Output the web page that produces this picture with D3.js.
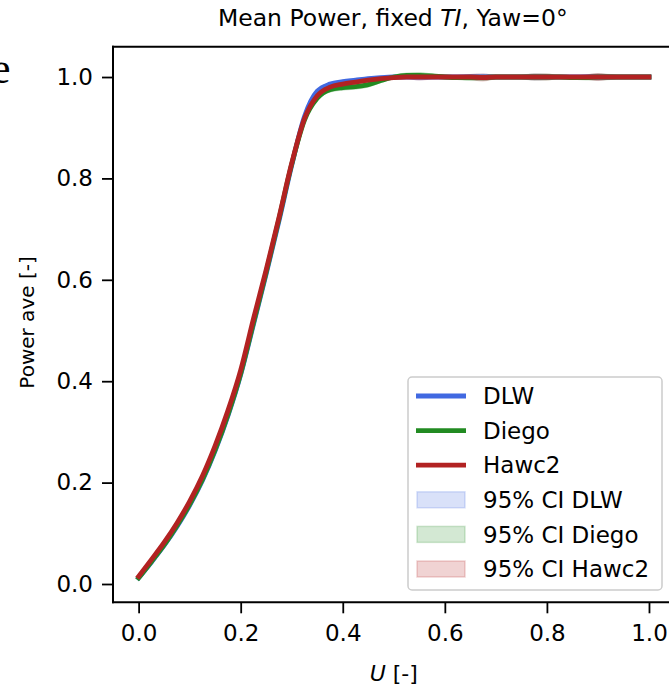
<!DOCTYPE html>
<html>
<head>
<meta charset="utf-8">
<script src="https://cdn.jsdelivr.net/npm/d3@7"></script>
<style>
  html, body { margin: 0; padding: 0; background: #fff; }
  svg { display: block; }
  text { font-family: "DejaVu Sans", sans-serif; fill: #000; }
</style>
</head>
<body>
<svg id="chart" width="669" height="688"></svg>
<script>
// ---------------- data ----------------
const u = [0,0.025,0.05,0.075,0.1,0.125,0.15,0.175,0.2,0.225,0.25,0.275,0.3,0.325,0.35,0.375,0.4,0.425,0.45,0.475,0.5,0.525,0.55,0.575,0.6,0.625,0.65,0.675,0.7,0.725,0.75,0.775,0.8,0.825,0.85,0.875,0.9,0.925,0.95,0.975,1.0];

const dlw   = [0.012,0.043,0.076,0.113,0.155,0.204,0.263,0.332,0.413,0.512,0.612,0.716,0.826,0.922,0.972,0.986,0.991,0.994,0.997,0.999,1.0,1.0,1.0,1.0,1.0,1.0,1.0,1.0,1.0,1.0,1.0,1.0,1.0,1.0,1.0,1.0,1.0,1.0,1.0,1.0,1.0];
const diego = [0.012,0.044,0.077,0.115,0.157,0.206,0.265,0.334,0.415,0.515,0.615,0.72,0.828,0.915,0.958,0.975,0.979,0.981,0.985,0.993,1.0,1.003,1.003,1.002,1.0,0.999,0.999,0.999,1.0,1.0,1.0,1.0,1.0,1.0,0.999,0.999,1.0,1.0,1.0,1.0,1.0];
const hawc2 = [0.015,0.048,0.082,0.12,0.163,0.213,0.273,0.342,0.422,0.523,0.62,0.723,0.83,0.918,0.963,0.98,0.986,0.99,0.994,0.997,0.999,1.0,1.0,1.0,1.0,1.0,1.0,0.999,1.0,1.0,1.0,1.0,1.0,1.0,1.0,1.0,1.0,1.0,1.0,1.0,1.0];

// 95% CI half-widths
const dlwCI   = [0.004,0.003,0.003,0.003,0.003,0.003,0.003,0.003,0.003,0.003,0.003,0.003,0.003,0.003,0.003,0.003,0.003,0.003,0.003,0.003,0.002,0.003,0.006,0.003,0.002,0.003,0.005,0.006,0.003,0.002,0.003,0.006,0.005,0.002,0.002,0.004,0.006,0.004,0.002,0.002,0.002];
const diegoCI = [0.004,0.003,0.003,0.003,0.003,0.003,0.003,0.003,0.003,0.003,0.003,0.003,0.003,0.004,0.004,0.005,0.005,0.005,0.005,0.004,0.004,0.005,0.006,0.004,0.003,0.004,0.006,0.006,0.004,0.003,0.004,0.006,0.006,0.003,0.003,0.005,0.006,0.005,0.003,0.002,0.002];
const hawc2CI = [0.004,0.003,0.003,0.003,0.003,0.003,0.003,0.003,0.003,0.003,0.003,0.003,0.003,0.003,0.003,0.003,0.003,0.003,0.003,0.003,0.002,0.003,0.006,0.004,0.002,0.003,0.005,0.007,0.003,0.002,0.003,0.006,0.006,0.002,0.002,0.004,0.007,0.004,0.002,0.002,0.002];

const seriesNames = ["DLW", "Diego", "Hawc2"];
const seriesColors = ["#4169e1", "#228b22", "#b22222"];
const seriesValues = [dlw, diego, hawc2];
const seriesCI = [dlwCI, diegoCI, hawc2CI];
const ciNames = ["95% CI DLW", "95% CI Diego", "95% CI Hawc2"];

const xTicks = [0.0, 0.2, 0.4, 0.6, 0.8, 1.0];
const yTicks = [0.0, 0.2, 0.4, 0.6, 0.8, 1.0];

// ---------------- layout ----------------
const svg = d3.select("#chart");
const plot = { left: 113, right: 674.6, top: 46.7, bottom: 602.3 };

const x = d3.scaleLinear().domain([-0.0502, 1.0502]).range([plot.left, plot.right]);
const y = d3.scaleLinear().domain([-0.0361, 1.0598]).range([plot.bottom, plot.top]);

// stray letter from neighbouring figure (cut at the left edge, as in the reference)
svg.append("text")
  .attr("x", -9).attr("y", 83)
  .style("font-family", "'Liberation Serif', serif")
  .style("font-size", "44px")
  .text("e");

// clip
svg.append("clipPath").attr("id", "clip")
  .append("rect")
  .attr("x", plot.left).attr("y", plot.top)
  .attr("width", plot.right - plot.left).attr("height", plot.bottom - plot.top);

const g = svg.append("g").attr("clip-path", "url(#clip)");

// CI bands
seriesValues.forEach((vals, i) => {
  const area = d3.area()
    .x((d, j) => x(u[j]))
    .y0((d, j) => y(vals[j] - seriesCI[i][j]))
    .y1((d, j) => y(vals[j] + seriesCI[i][j]))
    .curve(d3.curveMonotoneX);
  g.append("path")
    .datum(vals)
    .attr("d", area)
    .attr("fill", seriesColors[i])
    .attr("fill-opacity", 0.2)
    .attr("stroke", seriesColors[i])
    .attr("stroke-opacity", 0.2)
    .attr("stroke-width", 1);
});

// lines
seriesValues.forEach((vals, i) => {
  const line = d3.line()
    .x((d, j) => x(u[j]))
    .y(d => y(d))
    .curve(d3.curveMonotoneX);
  g.append("path")
    .datum(vals)
    .attr("d", line)
    .attr("fill", "none")
    .attr("stroke", seriesColors[i])
    .attr("stroke-width", 4.8)
    .attr("stroke-linecap", "square");
});

// axes
const xAxis = d3.axisBottom(x).tickValues(xTicks).tickFormat(d3.format(".1f")).tickSize(11).tickPadding(11);
const yAxis = d3.axisLeft(y).tickValues(yTicks).tickFormat(d3.format(".1f")).tickSize(11).tickPadding(9);

const gx = svg.append("g").attr("transform", `translate(0,${plot.bottom})`).call(xAxis);
const gy = svg.append("g").attr("transform", `translate(${plot.left},0)`).call(yAxis);
[gx, gy].forEach(a => {
  a.select(".domain").remove();
  a.selectAll(".tick line").attr("stroke", "#000").attr("stroke-width", 1.8);
  a.selectAll(".tick text").style("font-family", "'DejaVu Sans', sans-serif").style("font-size", "23px").attr("fill", "#000");
});

// spines
const sp = svg.append("g").attr("stroke", "#000").attr("stroke-width", 2).attr("fill", "none");
sp.append("line").attr("x1", plot.left).attr("x2", plot.left).attr("y1", plot.top - 1).attr("y2", plot.bottom + 1);
sp.append("line").attr("x1", plot.left - 1).attr("x2", plot.right).attr("y1", plot.bottom).attr("y2", plot.bottom);
sp.append("line").attr("x1", plot.left - 1).attr("x2", plot.right).attr("y1", plot.top).attr("y2", plot.top);
sp.append("line").attr("x1", plot.right).attr("x2", plot.right).attr("y1", plot.top).attr("y2", plot.bottom);

// title
const title = svg.append("text")
  .attr("x", (plot.left + plot.right) / 2 - 1).attr("y", 26)
  .attr("text-anchor", "middle")
  .style("font-size", "23.5px");
title.append("tspan").text("Mean Power, fixed ");
title.append("tspan").style("font-style", "italic").text("TI");
title.append("tspan").text(", Yaw=0°");

// axis labels
svg.append("text")
  .attr("transform", `translate(34,${(plot.top + plot.bottom) / 2 - 2}) rotate(-90)`)
  .attr("text-anchor", "middle")
  .style("font-size", "20px")
  .text("Power ave [-]");

const xl = svg.append("text")
  .attr("x", (plot.left + plot.right) / 2).attr("y", 681)
  .attr("text-anchor", "middle")
  .style("font-size", "22px");
xl.append("tspan").style("font-style", "italic").text("U");
xl.append("tspan").text(" [-]");

// legend
const leg = svg.append("g");
leg.append("rect")
  .attr("x", 408).attr("y", 377).attr("width", 254).attr("height", 213)
  .attr("rx", 4).attr("ry", 4)
  .attr("fill", "#fff").attr("fill-opacity", 0.8)
  .attr("stroke", "#cccccc").attr("stroke-width", 1.5);

const rowY = d3.scaleLinear().domain([0, 5]).range([396, 569]);
seriesNames.forEach((name, i) => {
  const yy = rowY(i);
  leg.append("line")
    .attr("x1", 416).attr("x2", 466).attr("y1", yy).attr("y2", yy)
    .attr("stroke", seriesColors[i]).attr("stroke-width", 4.8);
  leg.append("text").attr("x", 483).attr("y", yy).attr("dy", "0.36em")
    .style("font-size", "23px").text(name);
});
ciNames.forEach((name, i) => {
  const yy = rowY(i + 3);
  leg.append("rect")
    .attr("x", 417).attr("y", yy - 8).attr("width", 48).attr("height", 16)
    .attr("fill", seriesColors[i]).attr("fill-opacity", 0.2)
    .attr("stroke", seriesColors[i]).attr("stroke-opacity", 0.2).attr("stroke-width", 1.5);
  leg.append("text").attr("x", 483).attr("y", yy).attr("dy", "0.36em")
    .style("font-size", "23px").text(name);
});
</script>
</body>
</html>
